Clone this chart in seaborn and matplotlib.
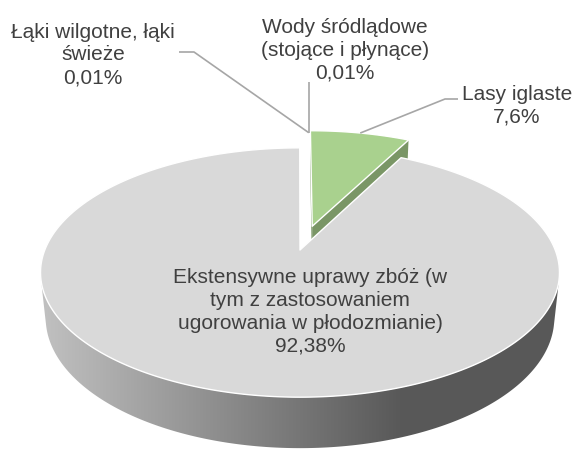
import numpy as np
import matplotlib
matplotlib.use("Agg")
import matplotlib.pyplot as plt
import seaborn as sns
from matplotlib.patches import Polygon
from matplotlib.colors import to_rgb

# Data (slices go clockwise from 12 o'clock)
names = ["Lasy iglaste",
         "Ekstensywne uprawy zbóż (w\ntym z zastosowaniem\nugorowania w płodozmianie)",
         "Łąki wilgotne, łąki\nświeże",
         "Wody śródlądowe\n(stojące i płynące)"]
shares = [7.6, 92.38, 0.01, 0.01]
colors = ["#A9D18E", "#D9D9D9", "#D9D9D9", "#D9D9D9"]
explode = [0.21, 0.0, 0.18, 0.18]

# label layout (pixels)
label_xy = [(517, 106), (310, 312), (93, 55), (345, 50)]
leader_pts = [[(458, 99), (445, 99)], None, [(179, 52), (194, 52)], "up"]
leader_nudge = [0, 0, 9, 9]

sns.set_theme(style="white")
plt.rcParams["font.family"] = ["Liberation Sans", "DejaVu Sans"]

W, H = 577, 451
elev = np.radians(28.2)
dist = 4.88
thick = 0.203
scale = 255.2
cx, cy = 300, 250
cam = np.array([0, -dist * np.cos(elev), dist * np.sin(elev)])


def proj(X, Y, Z):
    X, Y, Z = (np.atleast_1d(np.asarray(v, dtype=float)) for v in (X, Y, Z))
    X, Y, Z = np.broadcast_arrays(X, Y, Z)
    depth = dist + Y * np.cos(elev) - Z * np.sin(elev)
    px = cx + scale * X * dist / depth
    py = cy - scale * (Y * np.sin(elev) + Z * np.cos(elev)) * dist / depth
    return np.column_stack([px, py])


def depth_of(X, Y, Z):
    return np.mean(dist + np.asarray(Y) * np.cos(elev) - np.asarray(Z) * np.sin(elev))


tot = sum(shares)
ang = 360 * np.array(shares) / tot
ends = 90 - np.concatenate([[0], np.cumsum(ang)[:-1]])
starts = ends - ang

# silhouette of the cylinder wall seen from the camera
s = np.degrees(np.arcsin(-1 / (dist * np.cos(elev))))
vis_lo, vis_hi = 180 - s, 360 + s

fig = plt.figure(figsize=(W / 100, H / 100), dpi=100)
ax = fig.add_axes([0, 0, 1, 1])

xs = np.linspace(0, W, 600)
fac = np.clip(0.89 - (xs - 40) / 360 * 0.48, 0.41, 0.89)

sides, tops = [], []
anchors = []
for i, v in enumerate(shares):
    a, b = starts[i], ends[i]
    mid = np.radians((a + b) / 2)
    ox, oy = explode[i] * np.cos(mid), explode[i] * np.sin(mid)
    anchors.append(proj(ox + np.cos(mid), oy + np.sin(mid), 0)[0])
    col = np.array(to_rgb(colors[i]))

    t = np.radians(np.linspace(a, b, max(int(abs(b - a)) * 2, 3)))
    xt, yt = ox + np.cos(t), oy + np.sin(t)
    top = np.vstack([proj(ox, oy, 0), proj(xt, yt, 0)])
    tops.append((depth_of(xt, yt, 0), top, col))

    # outer wall, visible part only
    for k in (-1, 0, 1):
        lo, hi = max(a, vis_lo + 360 * k), min(b, vis_hi + 360 * k)
        if hi > lo:
            tw = np.radians(np.linspace(lo, hi, int(hi - lo) * 2 + 3))
            xw, yw = ox + np.cos(tw), oy + np.sin(tw)
            pts = np.vstack([proj(xw, yw, 0), proj(xw, yw, -thick)[::-1]])
            sides.append((depth_of(xw, yw, -thick / 2), pts, col, "grad"))

    # radial cut faces
    for th, sign in ((a, 1), (b, -1)):
        r = np.radians(th)
        n = sign * np.array([np.sin(r), -np.cos(r), 0])
        p = np.array([ox + 0.5 * np.cos(r), oy + 0.5 * np.sin(r), -thick / 2])
        if np.dot(n, cam - p) > 0.01 and shares[i] > 1:
            rx, ry = ox + np.cos(r), oy + np.sin(r)
            pts = np.vstack([proj(ox, oy, 0), proj(rx, ry, 0),
                             proj(rx, ry, -thick), proj(ox, oy, -thick)])
            sides.append((p[1], pts, col * 0.72, "flat"))

z = 1
for d, pts, col, kind in sorted(sides, key=lambda q: -q[0]):
    poly = Polygon(pts, closed=True, facecolor=col if kind == "flat" else "none",
                   edgecolor="none", zorder=z)
    ax.add_patch(poly)
    if kind == "grad":
        img = col[None, None, :] * fac[None, :, None]
        im = ax.imshow(img, extent=[0, W, H, 0], aspect="auto", zorder=z,
                       interpolation="bilinear")
        im.set_clip_path(poly)
    z += 1

for d, pts, col in sorted(tops, key=lambda q: -q[0]):
    ax.add_patch(Polygon(pts, closed=True, facecolor=col, edgecolor="white",
                         linewidth=1.0, joinstyle="round", zorder=z))
    z += 1

# data labels with leader lines
for i, v in enumerate(shares):
    pct = f"{v:g}".replace(".", ",") + "%"
    lx, ly = label_xy[i]
    ax.text(lx, ly, names[i] + "\n" + pct, ha="center", va="center",
            multialignment="center", fontsize=15, color="#404040",
            linespacing=1.25, zorder=z + 2)
    lp = leader_pts[i]
    if lp is None:
        continue
    ax_, ay_ = anchors[i]
    ax_ += leader_nudge[i]
    if lp == "up":
        path = [(ax_, 82), (ax_, ay_)]
    else:
        path = list(lp) + [(ax_, ay_)]
    px, py = zip(*path)
    ax.plot(px, py, color="#A6A6A6", lw=1.2, zorder=z + 1, solid_capstyle="butt")

ax.set_xlim(0, W)
ax.set_ylim(H, 0)
ax.axis("off")
fig.savefig("out.png", dpi=100, facecolor="white")
